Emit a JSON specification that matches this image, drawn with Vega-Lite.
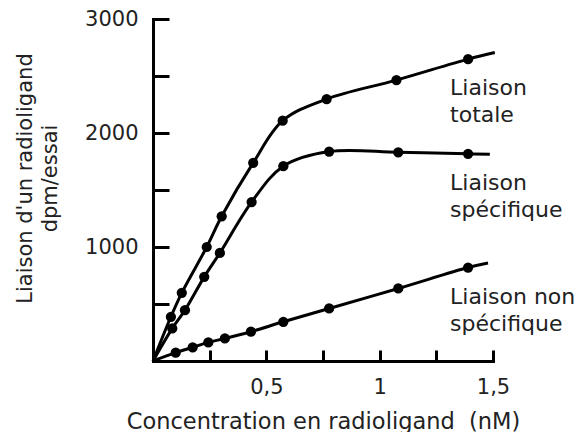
{
  "$schema": "https://vega.github.io/schema/vega-lite/v6.json",
  "width": 340,
  "height": 342,
  "autosize": {"type": "none"},
  "padding": {"left": 153, "top": 19, "right": 83, "bottom": 71},
  "background": "white",
  "config": {
    "view": {"stroke": null},
    "font": "DejaVu Sans",
    "axis": {
      "grid": false,
      "domainColor": "black",
      "domainWidth": 3,
      "domainCap": "square",
      "tickColor": "black",
      "tickWidth": 3,
      "labelColor": "#222",
      "titleColor": "#222",
      "labelFont": "DejaVu Sans",
      "titleFont": "DejaVu Sans",
      "labelFontSize": 21,
      "titleFontSize": 21,
      "titleFontWeight": "normal"
    }
  },
  "data": {
    "values": [
      {"series": "Liaison\ntotale", "x": 0, "y": 0, "marker": false, "anchor": false},
      {"series": "Liaison\ntotale", "x": 0.079, "y": 388, "marker": true, "anchor": false},
      {"series": "Liaison\ntotale", "x": 0.127, "y": 598, "marker": true, "anchor": false},
      {"series": "Liaison\ntotale", "x": 0.237, "y": 1000, "marker": true, "anchor": false},
      {"series": "Liaison\ntotale", "x": 0.303, "y": 1269, "marker": true, "anchor": false},
      {"series": "Liaison\ntotale", "x": 0.442, "y": 1738, "marker": true, "anchor": false},
      {"series": "Liaison\ntotale", "x": 0.572, "y": 2108, "marker": true, "anchor": false},
      {"series": "Liaison\ntotale", "x": 0.766, "y": 2298, "marker": true, "anchor": false},
      {"series": "Liaison\ntotale", "x": 1.074, "y": 2464, "marker": true, "anchor": false},
      {"series": "Liaison\ntotale", "x": 1.39, "y": 2648, "marker": true, "anchor": true},
      {"series": "Liaison\ntotale", "x": 1.508, "y": 2706, "marker": false, "anchor": false},
      {"series": "Liaison\nspécifique", "x": 0, "y": 0, "marker": false, "anchor": false},
      {"series": "Liaison\nspécifique", "x": 0.085, "y": 286, "marker": true, "anchor": false},
      {"series": "Liaison\nspécifique", "x": 0.141, "y": 446, "marker": true, "anchor": false},
      {"series": "Liaison\nspécifique", "x": 0.226, "y": 738, "marker": true, "anchor": false},
      {"series": "Liaison\nspécifique", "x": 0.295, "y": 948, "marker": true, "anchor": false},
      {"series": "Liaison\nspécifique", "x": 0.435, "y": 1394, "marker": true, "anchor": false},
      {"series": "Liaison\nspécifique", "x": 0.575, "y": 1709, "marker": true, "anchor": false},
      {"series": "Liaison\nspécifique", "x": 0.777, "y": 1837, "marker": true, "anchor": false},
      {"series": "Liaison\nspécifique", "x": 1.082, "y": 1831, "marker": true, "anchor": false},
      {"series": "Liaison\nspécifique", "x": 1.39, "y": 1817, "marker": true, "anchor": true},
      {"series": "Liaison\nspécifique", "x": 1.486, "y": 1813, "marker": false, "anchor": false},
      {"series": "Liaison non\nspécifique", "x": 0, "y": 0, "marker": false, "anchor": false},
      {"series": "Liaison non\nspécifique", "x": 0.1, "y": 73, "marker": true, "anchor": false},
      {"series": "Liaison non\nspécifique", "x": 0.175, "y": 120, "marker": true, "anchor": false},
      {"series": "Liaison non\nspécifique", "x": 0.244, "y": 163, "marker": true, "anchor": false},
      {"series": "Liaison non\nspécifique", "x": 0.317, "y": 198, "marker": true, "anchor": false},
      {"series": "Liaison non\nspécifique", "x": 0.432, "y": 257, "marker": true, "anchor": false},
      {"series": "Liaison non\nspécifique", "x": 0.575, "y": 344, "marker": true, "anchor": false},
      {"series": "Liaison non\nspécifique", "x": 0.777, "y": 461, "marker": true, "anchor": false},
      {"series": "Liaison non\nspécifique", "x": 1.082, "y": 636, "marker": true, "anchor": false},
      {"series": "Liaison non\nspécifique", "x": 1.39, "y": 820, "marker": true, "anchor": true},
      {"series": "Liaison non\nspécifique", "x": 1.478, "y": 860, "marker": false, "anchor": false}
    ]
  },
  "encoding": {
    "x": {
      "field": "x",
      "type": "quantitative",
      "scale": {"domain": [0, 1.5], "nice": false},
      "axis": {
        "title": "Concentration en radioligand\u00a0 (nM)",
        "titleFontSize": 22.5,
        "values": [0.25, 0.5, 0.75, 1, 1.25, 1.5],
        "labelExpr": "datum.value == 0.5 ? '0,5' : datum.value == 1 ? '1' : datum.value == 1.5 ? '1,5' : ''",
        "tickSize": -11,
        "labelPadding": 26,
        "labelFlush": false,
        "labelOverlap": false,
        "titleBaseline": "alphabetic",
        "titleY": 67
      }
    },
    "y": {
      "field": "y",
      "type": "quantitative",
      "scale": {"domain": [0, 3000], "nice": false},
      "axis": {
        "title": ["Liaison d'un radioligand", "dpm/essai"],
        "values": [500, 1000, 1500, 2000, 2500, 3000],
        "format": "d",
        "labelExpr": "datum.value % 1000 == 0 ? datum.label : ''",
        "tickSize": -16,
        "labelPadding": 31,
        "labelFlush": false,
        "labelOverlap": false,
        "titleAngle": -90,
        "titleBaseline": "top",
        "titleAlign": "center",
        "titleLineHeight": 25,
        "titleX": -139,
        "titleY": 159
      }
    }
  },
  "layer": [
    {
      "mark": {"type": "line", "color": "black", "strokeWidth": 3, "interpolate": "catmull-rom"},
      "encoding": {"detail": {"field": "series"}, "order": {"field": "x", "type": "quantitative"}}
    },
    {
      "transform": [{"filter": "datum.marker"}],
      "mark": {"type": "point", "shape": "circle", "filled": true, "color": "black", "opacity": 1, "size": 105}
    },
    {
      "transform": [{"filter": "datum.anchor"}],
      "mark": {"type": "text", "align": "left", "baseline": "alphabetic", "dx": -18, "dy": 36, "lineBreak": "\n", "lineHeight": 27, "fontSize": 22, "color": "#222", "font": "DejaVu Sans"},
      "encoding": {"text": {"field": "series"}}
    }
  ]
}
